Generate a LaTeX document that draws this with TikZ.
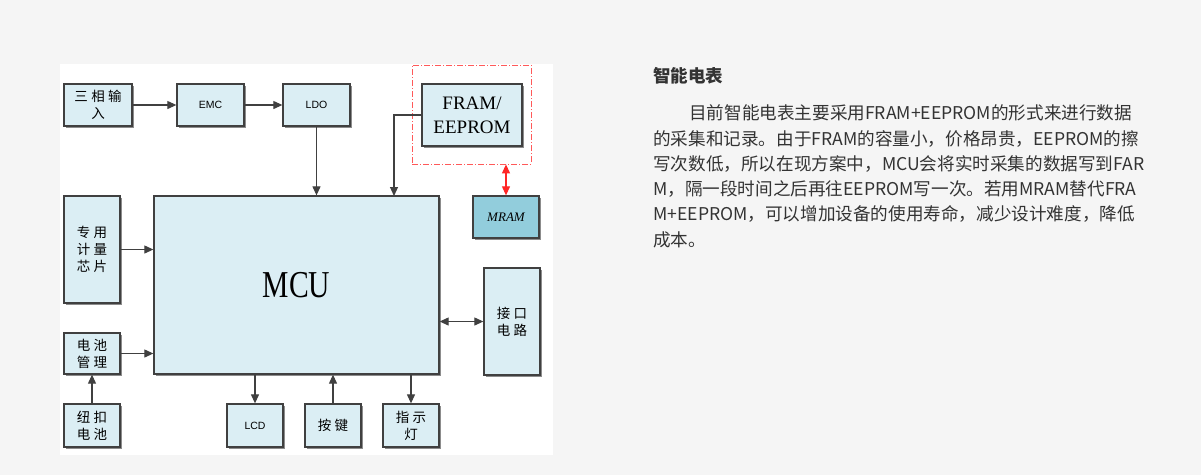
\documentclass[tikz,border=0pt]{standalone}
\usepackage{fontspec}
\setmainfont{Liberation Serif}
\newfontfamily\cjk{Noto Sans CJK SC}
\newfontfamily\cjkbox{Noto Sans CJK SC}[LetterSpace=25]
\newfontfamily\lab{Liberation Sans}
\newfontfamily\narrowserif{Liberation Serif}[FakeStretch=0.78]
\usepackage{xcolor}
\usepackage{tikz}
\usetikzlibrary{arrows.meta, shadows}
\definecolor{boxfill}{HTML}{DBEEF4}
\definecolor{mramfill}{HTML}{92CDDC}
\definecolor{edge}{HTML}{404040}
\definecolor{pagebg}{HTML}{F5F5F5}
\definecolor{txt}{HTML}{333333}
\tikzstyle{box} = [draw=edge, line width=1.3pt, fill=boxfill, align=center, inner sep=0pt,
  drop shadow={shadow xshift=1.5pt, shadow yshift=-1.5pt, opacity=.45, fill=black}]
\tikzstyle{arrow} = [line width=1.1pt, draw=edge, -{Triangle[length=9pt,width=8pt]}]
\tikzstyle{both} = [{Triangle[length=9pt,width=8pt]}-{Triangle[length=9pt,width=8pt]}]
\tikzstyle{cn} = [font=\cjkbox\fontsize{13.5}{17}\selectfont]
\tikzstyle{en} = [font=\lab\fontsize{10.5}{12}\selectfont]
\tikzstyle{para} = [anchor=west, inner sep=0pt, text=txt, font=\cjk\fontsize{17.6}{20}\selectfont]

\begin{document}
\begin{tikzpicture}[x=1pt,y=-1pt]
	% Page and panel:
	\fill[pagebg] (0,0) rectangle (1201,475);
	\fill[white] (60,64) rectangle (553,455);
	\useasboundingbox (0,0) rectangle (1201,475);
	
	% Blocks:
	\node[box, cn, minimum width=68, minimum height=42] (in3) at (98,105) {三相输\\入};
	\node[box, en, minimum width=67, minimum height=42] (emc) at (210.5,105) {EMC};
	\node[box, en, minimum width=67, minimum height=42] (ldo) at (316.5,105) {LDO};
	\node[box, font=\fontsize{19}{24}\selectfont, minimum width=100, minimum height=62] (fram) at (472,115) {FRAM/\\EEPROM};
	\node[box, font=\narrowserif\fontsize{38}{42}\selectfont, minimum width=285, minimum height=178] (mcu) at (296.5,285) {MCU};
	\node[box, fill=mramfill, font=\itshape\fontsize{13}{15}\selectfont, minimum width=66, minimum height=42] (mram) at (506,217) {MRAM};
	\node[box, cn, minimum width=56, minimum height=107] (meter) at (92,249.5) {专用\\计量\\芯片};
	\node[box, cn, minimum width=56, minimum height=41] (batm) at (92,353.5) {电池\\管理};
	\node[box, cn, minimum width=56, minimum height=43] (cell) at (92,425.5) {纽扣\\电池};
	\node[box, en, minimum width=56, minimum height=43] (lcd) at (255,425.5) {LCD};
	\node[box, cn, minimum width=56, minimum height=43] (key) at (333,425.5) {按键};
	\node[box, cn, minimum width=56, minimum height=43] (led) at (411,425.5) {指示\\灯};
	\node[box, cn, minimum width=56, minimum height=107] (port) at (512,321.5) {接口\\电路};
	
	% Memory frame:
	\node[draw=red!65, line width=0.8pt, dash pattern=on 6pt off 2pt on 1pt off 2pt,
	  minimum width=119, minimum height=99, inner sep=0pt] (memfrm) at (471.5,114.5) {};
	\coordinate (framin) at (394,196);
	
	% Connectors:
	\draw[arrow] (in3.east) -- (emc.west);
	\draw[arrow] (emc.east) -- (ldo.west);
	\draw[arrow] (ldo.south) -- (ldo.south |- mcu.north);
	\draw[arrow] (fram.west) -| (framin);
	\draw[arrow] (meter.east) -- (meter.east -| mcu.west);
	\draw[arrow] (cell.north) -- (batm.south);
	\draw[arrow] (batm.east) -- (batm.east -| mcu.west);
	\draw[arrow] (lcd.north |- mcu.south) -- (lcd.north);
	\draw[arrow] (key.north) -- (key.north |- mcu.south);
	\draw[arrow] (led.north |- mcu.south) -- (led.north);
	\draw[arrow, both] (port.west) -- (port.west -| mcu.east);
	\draw[arrow, both, draw=red!85, fill=red!85] (mram.north |- memfrm.south) -- (mram.north);
	
	% Text on the right:
	\node[para, font=\cjk\bfseries\fontsize{17.5}{20}\selectfont] (title) at (653,76) {智能电表};
	\node[para] (l1) at (689,113) {目前智能电表主要采用FRAM+EEPROM的形式来进行数据};
	\node[para] (l2) at (653,138.5) {的采集和记录。由于FRAM的容量小，价格昂贵，EEPROM的擦};
	\node[para] (l3) at (653,164) {写次数低，所以在现方案中，MCU会将实时采集的数据写到FAR};
	\node[para] (l4) at (653,189) {M，隔一段时间之后再往EEPROM写一次。若用MRAM替代FRA};
	\node[para] (l5) at (653,214) {M+EEPROM，可以增加设备的使用寿命，减少设计难度，降低};
	\node[para] (l6) at (653,239.5) {成本。};
\end{tikzpicture}
\end{document}
